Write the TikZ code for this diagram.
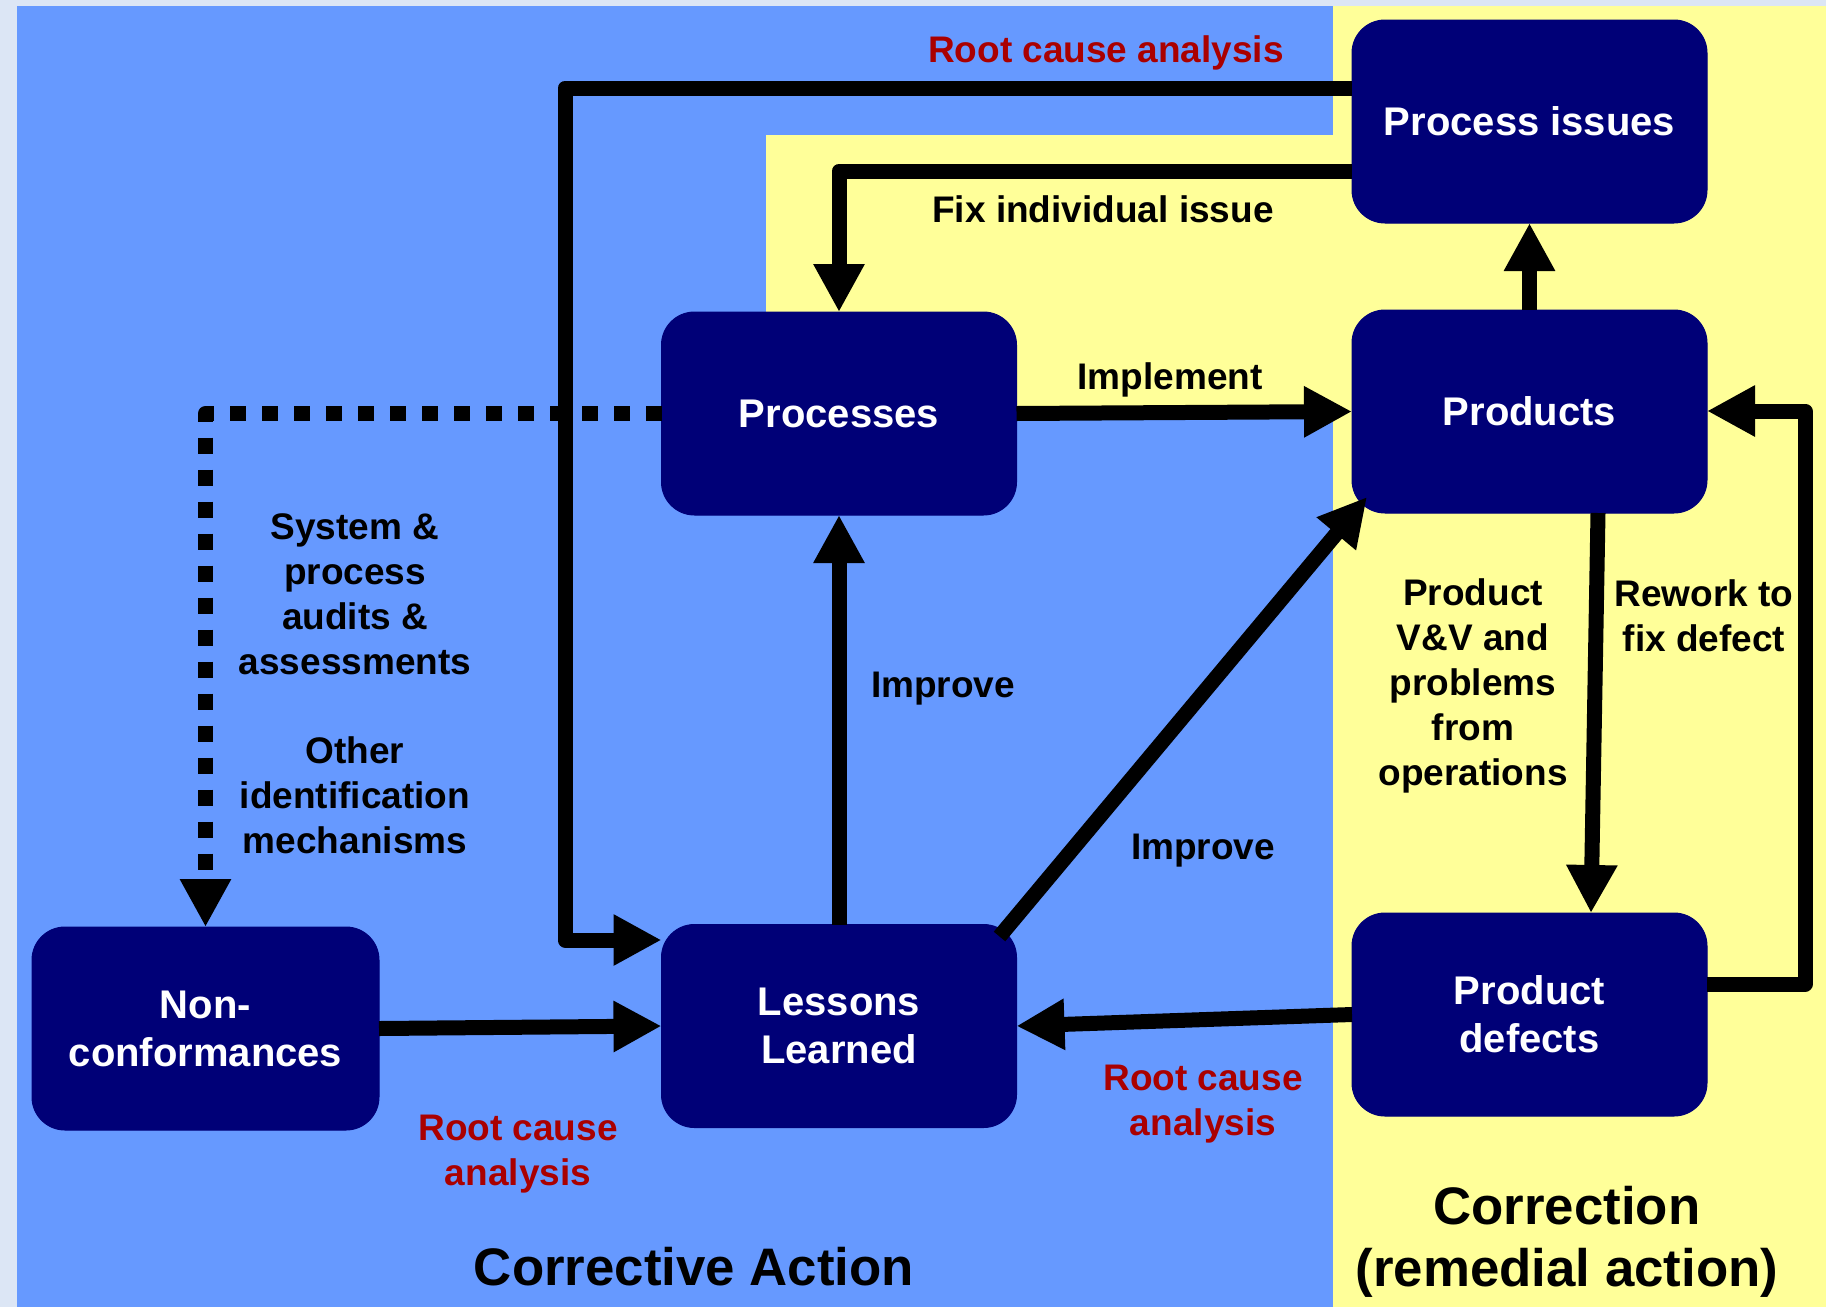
\documentclass[tikz,border=0pt]{standalone}
\usepackage{fontspec}
\setmainfont{Liberation Sans}
\usetikzlibrary{arrows.meta}
\definecolor{bgedge}{HTML}{DCE6F5}
\definecolor{cablue}{HTML}{6699FF}
\definecolor{cryellow}{HTML}{FFFF99}
\definecolor{boxnavy}{HTML}{000077}
\definecolor{rcared}{HTML}{AA0000}
\begin{document}
\begin{tikzpicture}[x=0.5pt,y=-0.5pt,
  box/.style={rectangle, rounded corners=16.5pt, fill=boxnavy, draw=boxnavy,
    line width=0.5pt, text=white, font=\fontsize{20pt}{24pt}\selectfont\bfseries,
    align=center, minimum width=177.5pt, minimum height=101.5pt,
    inner sep=0pt, outer sep=0pt},
  lbl/.style={font=\fontsize{18.5pt}{22.5pt}\selectfont\bfseries, align=center,
    text=black, inner sep=0pt},
  rca/.style={lbl, text=rcared},
  ttl/.style={font=\fontsize{26.4pt}{31pt}\selectfont\bfseries, align=center,
    inner sep=0pt},
  flow/.style={line width=7.5pt, line join=round,
    -{Triangle[length=24pt,width=24pt]}},
  audit/.style={flow, dash pattern=on 8pt off 8pt}
]
% background areas: corrective action (blue) and correction (yellow)
\fill[bgedge] (0,0) rectangle (1826,1307);
\fill[cablue] (17,6) rectangle (1826,1307);
\fill[cryellow] (1333,6) rectangle (1826,1307);
\fill[cryellow] (766,135) rectangle (1333,415);
\useasboundingbox (0,0) rectangle (1826,1307);

% boxes
\node[box] (pi) at (1529.5,121.5) {Process issues};
\node[box] (pd) at (1529.5,411.5) {Products};
\node[box] (pc) at (839,413.5) {Processes};
\node[box, minimum width=173.5pt] (nc) at (205.5,1028.5) {Non-\\conformances};
\node[box] (ll) at (839,1026) {Lessons\\Learned};
\node[box] (df) at (1529.5,1014.5) {Product\\defects};

% bend points of the routed connectors
\coordinate (rcTop) at (565,88);
\coordinate (rcLow) at (565,940);
\coordinate (fixBend) at (839,171);
\coordinate (rwLow) at (1805,984);
\coordinate (rwTop) at (1805,411);
\coordinate (vvTop) at (1598,0);
\coordinate (vvLow) at (1591,0);

% connectors
\draw[audit] (pc.west) -- (nc.north |- pc.west) -- (nc.north);
\draw[flow] (pi.west |- rcTop) -- (rcTop) -- (rcLow) -- (ll.west |- rcLow);
\draw[flow] (pi.west |- fixBend) -- (fixBend) -- (pc.north);
\draw[flow] (pc.east) -- (pd.west);
\draw[flow] (pd.north) -- (pi.south);
\draw[flow] (pd.south -| vvTop) -- (df.north -| vvLow);
\draw[flow] (df.east |- rwLow) -- (rwLow) -- (rwTop) -- (pd.east |- rwTop);
\draw[flow] (ll.north) -- (pc.south);
\draw[flow] ([shift={(-17,12)}]ll.north east) -- ([shift={(15,-16)}]pd.south west);
\draw[flow] (nc.east) -- (ll.west);
\draw[flow] (df.west) -- (ll.east);

% connector labels
\node[rca] (lRcTop) at (1106,53) {Root cause analysis};
\node[lbl] (lFix) at (1103,209) {Fix individual issue};
\node[lbl] (lImpl) at (1170,380) {Implement};
\node[lbl] (lImprA) at (943,689) {Improve};
\node[lbl] (lImprB) at (1203,851) {Improve};
\node[lbl] (lVV) at (1473,686) {Product\\V\&V and\\problems\\from\\operations};
\node[lbl] (lRw) at (1704,616) {Rework to\\fix defect};
\node[lbl] (lAud) at (355,594) {System \&\\process\\audits \&\\assessments};
\node[lbl] (lOther) at (355,795) {Other\\identification\\mechanisms};
\node[rca] (lRcL) at (518,1154) {Root cause\\analysis};
\node[rca] (lRcR) at (1203,1104) {Root cause\\analysis};

% area titles
\node[ttl] (tCA) at (694,1267) {Corrective Action};
\node[ttl] (tCorr) at (1567,1242) {Correction\\(remedial action)};
\end{tikzpicture}
\end{document}
